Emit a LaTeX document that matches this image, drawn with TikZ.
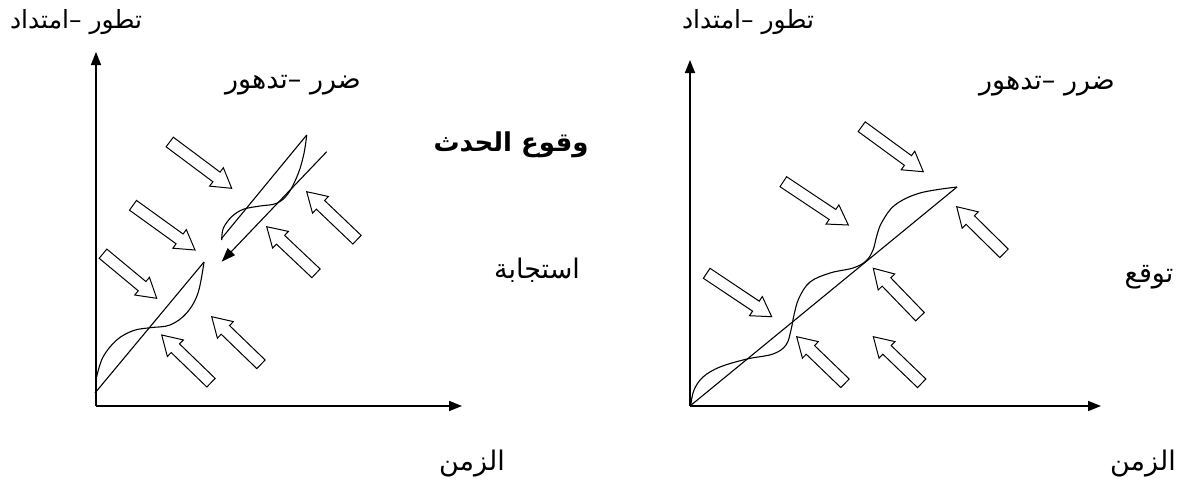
\documentclass[tikz,border=0pt]{standalone}
\usepackage{fontspec}
\newfontfamily\arabicfont[Script=Arabic]{DejaVu Sans}
\TeXXeTstate=1
\usetikzlibrary{arrows.meta,calc}
\newcommand\blkarrow[2]{%
  \coordinate (ba) at (#1);
  \coordinate (bb) at (#2);
  \coordinate (bh) at ($(bb)!19pt!(ba)$);
  \draw[barrow] ($(ba)!6pt!90:(bb)$) -- ($(bh)!6pt!90:(bb)$) -- ($(bh)!11.5pt!90:(bb)$)
    -- (bb) -- ($(bh)!11.5pt!-90:(bb)$) -- ($(bh)!6pt!-90:(bb)$) -- ($(ba)!6pt!-90:(bb)$) -- cycle;}
\begin{document}
\begin{tikzpicture}[x=1pt,y=-1pt,
  axisline/.style={line width=1.6pt,-{Triangle[length=13pt,width=10pt]}},
  wave/.style={line width=1.1pt},
  barrow/.style={draw,line width=1pt,fill=white,line join=miter},
  lbl/.style={font=\arabicfont\fontsize{27}{32}\selectfont,inner sep=0pt},
  lbly/.style={font=\arabicfont\fontsize{25}{30}\selectfont,inner sep=0pt},
  lblb/.style={font=\arabicfont\bfseries\fontsize{26}{31}\selectfont,inner sep=0pt}]
\useasboundingbox (0,0) rectangle (1187,490);
\fill[white] (0,0) rectangle (1187,490);

% ---------- left panel ----------
\coordinate (O1) at (96,406);
\coordinate (Y1) at (96,52);
\coordinate (X1) at (462,406);
\draw[axisline] (O1) -- (Y1);
\draw[axisline] (O1) -- (X1);

\coordinate (L1a) at (95,393);
\coordinate (L1b) at (204,262);
\draw[wave] (L1a) -- (L1b);
\draw[wave] plot[smooth,tension=0.6] coordinates {(96.7,376.7) (103,357) (116.7,340) (133,330.7) (150,327.7) (170,325) (186.7,313) (198,293) (204,262)};

\coordinate (L2a) at (306.7,135);
\coordinate (L2b) at (221.7,238.3);
\draw[wave] (L2a) -- (L2b);
\draw[wave] plot[smooth,tension=0.6] coordinates {(221.7,240) (223.3,228.3) (231.7,216.7) (243.3,209.3) (260,206) (276.7,203.3) (288.3,193.3) (298.3,173.3) (304,153.3) (306.7,135)};

\coordinate (Ra) at (326.7,151.7);
\coordinate (Rb) at (221.7,261.7);
\draw[wave,-{Triangle[length=14pt,width=10pt]}] (Ra) -- (Rb);

\blkarrow{169.7,142}{231.7,188.3}
\blkarrow{133,205.3}{195,250}
\blkarrow{103,253.7}{156.7,298.3}
\blkarrow{357,239.7}{306.7,191.7}
\blkarrow{316,273.3}{266.7,226.7}
\blkarrow{211,382.7}{161.7,335}
\blkarrow{261,364.3}{211.7,316.7}

\node[lbly] (ly) at (76,22) {\beginR تطور –امتداد\endR};
\node[lbl] (ld) at (293,85) {\beginR ضرر –تدهور\endR};
\node[lblb] (ev) at (511,145) {\beginR وقوع الحدث\endR};
\node[lbl] (resp) at (537,270) {\beginR استجابة\endR};
\node[lbl] (lt) at (472,464) {\beginR الزمن\endR};

% ---------- right panel ----------
\coordinate (O2) at (690,406);
\coordinate (Y2) at (690,60);
\coordinate (X2) at (1101,406);
\draw[axisline] (O2) -- (Y2);
\draw[axisline] (O2) -- (X2);

\coordinate (D2) at (957,187);
\draw[wave] (O2) -- (D2);
\draw[wave] plot[smooth,tension=0.6] coordinates {(691,404) (694,390) (703,377) (720,367) (747,359) (773,354) (786,345) (791,330) (794,315) (799,298) (810,282) (830,273) (853,268) (866,261) (873,250) (877,235) (882,222) (895,205) (920,193) (957,187)};

\blkarrow{861.7,126.7}{923.3,171.7}
\blkarrow{783.3,181.7}{848.3,225}
\blkarrow{706.7,273.3}{771.7,316.7}
\blkarrow{1004,253.3}{956.7,206.7}
\blkarrow{920,316.7}{873.3,268.3}
\blkarrow{845,383.3}{796.7,336.7}
\blkarrow{921.7,383.3}{873.3,336.7}

\node[lbly] (ry) at (748,22) {\beginR تطور –امتداد\endR};
\node[lbl] (rd) at (1047,86) {\beginR ضرر –تدهور\endR};
\node[lbl] (exp) at (1149,277) {\beginR توقع\endR};
\node[lbl] (rt) at (1143,464) {\beginR الزمن\endR};
\end{tikzpicture}
\end{document}
